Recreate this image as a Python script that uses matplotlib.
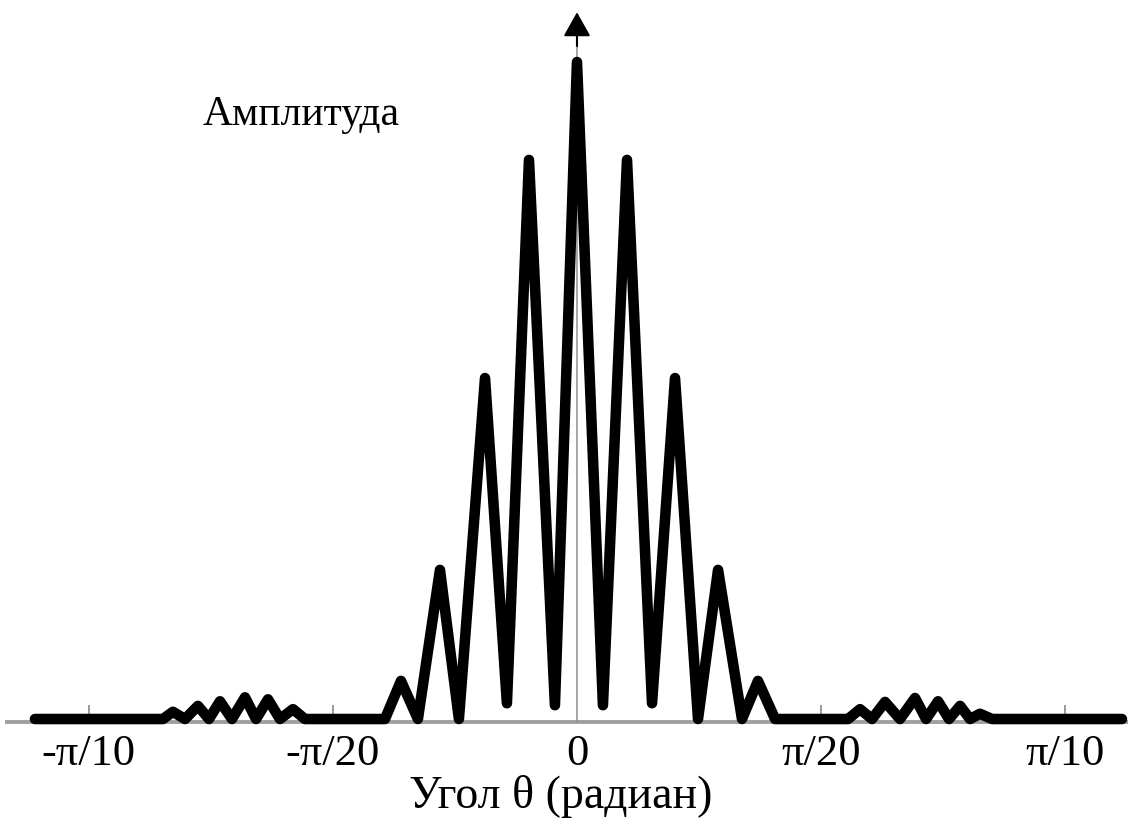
import numpy as np
import matplotlib
matplotlib.use("Agg")
import matplotlib.pyplot as plt

# ---- data ----
theta = [-0.3489, -0.2665, -0.2601, -0.2523, -0.2440, -0.2369, -0.2298, -0.2221,
         -0.2137, -0.2066, -0.1989, -0.1912, -0.1828, -0.1751, -0.1236, -0.1133,
         -0.1024, -0.0882, -0.0760, -0.0592, -0.0451, -0.0309, -0.0142, 0.0,
         0.0167, 0.0322, 0.0483, 0.0631, 0.0779, 0.0908, 0.1062, 0.1165,
         0.1275, 0.1745, 0.1822, 0.1899, 0.1983, 0.2079, 0.2176, 0.2247,
         0.2324, 0.2395, 0.2466, 0.2530, 0.2594, 0.2672, 0.3508]
amplitude = [0.0, 0.0, 0.011, 0.0, 0.020, 0.0, 0.027, 0.0,
             0.033, 0.0, 0.030, 0.0, 0.015, 0.0, 0.0, 0.058,
             0.0, 0.227, 0.0, 0.519, 0.024, 0.851, 0.021, 1.0,
             0.021, 0.851, 0.024, 0.519, 0.0, 0.227, 0.0, 0.058,
             0.0, 0.0, 0.015, 0.0, 0.026, 0.0, 0.032, 0.0,
             0.027, 0.0, 0.020, 0.0, 0.008, 0.0, 0.0]
tick_values = [-np.pi / 10, -np.pi / 20, 0.0, np.pi / 20, np.pi / 10]
tick_labels = ["-π/10", "-π/20", "0", "π/20", "π/10"]
y_label = "Амплитуда"
x_label = "Угол θ (радиан)"

W, H = 1133, 824
fig = plt.figure(figsize=(W / 100, H / 100), dpi=100)
ax = fig.add_axes([0, 0, 1, 1])
ax.set_xlim(-0.3714, 0.3579)
ax.set_ylim(-0.1598, 1.0944)
ax.axis("off")

serif = ["Liberation Serif", "DejaVu Serif"]

# x axis (gray halftone line)
ax.plot([-0.3680, 0.3545], [-0.004, -0.004], color="#a0a0a0", lw=2.8,
        solid_capstyle="butt", zorder=1)
# small ticks
ax.vlines([t for t in tick_values if t != 0], -0.004, 0.022, color="#8a8a8a", lw=1.2, zorder=1)
# y axis with arrow
ax.plot([0, 0], [-0.004, 1.05], color="#909090", lw=1.1, zorder=1)
ax.annotate("", xy=(0, 1.080), xytext=(0, 1.02),
            arrowprops=dict(arrowstyle="-|>,head_width=0.42,head_length=0.75",
                            color="black", lw=1.5, mutation_scale=20), zorder=3)

# curve
ax.plot(theta, amplitude, color="black", lw=7.6, solid_joinstyle="round",
        solid_capstyle="round", zorder=2)

# tick labels
for t, lab in zip(tick_values, tick_labels):
    ax.text(t, 1 - 765 / H, lab, transform=ax.get_xaxis_transform(), ha="center",
            va="baseline", fontsize=32, family=serif)

ax.text(561 / W, 1 - 808 / H, x_label, transform=ax.transAxes, ha="center",
        va="baseline", fontsize=33, family=serif)
ax.text(203 / W, 1 - 125 / H, y_label, transform=ax.transAxes, ha="left",
        va="baseline", fontsize=30, family=serif)

fig.savefig("out.png", dpi=100)
